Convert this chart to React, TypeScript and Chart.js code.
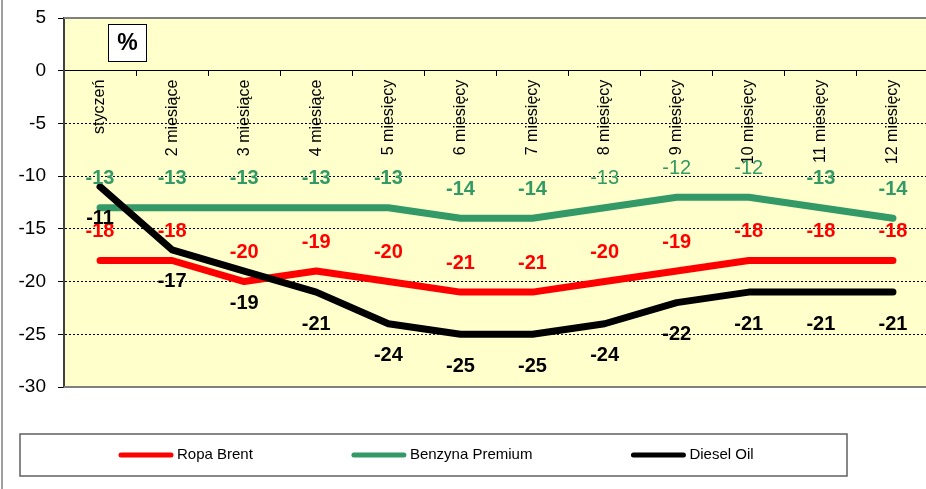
import React, { useEffect, useRef } from 'react';
import { Chart, registerables } from 'chart.js';

Chart.register(...registerables);

const categories = [
  'styczeń', '2 miesiące', '3 miesiące', '4 miesiące', '5 miesięcy', '6 miesięcy',
  '7 miesięcy', '8 miesięcy', '9 miesięcy', '10 miesięcy', '11 miesięcy', '12 miesięcy',
];
const ropaBrent = [-18, -18, -20, -19, -20, -21, -21, -20, -19, -18, -18, -18];
const benzynaPremium = [-13, -13, -13, -13, -13, -14, -14, -13, -12, -12, -13, -14];
const dieselOil = [-11, -17, -19, -21, -24, -25, -25, -24, -22, -21, -21, -21];
const yTicks = [5, 0, -5, -10, -15, -20, -25, -30];
const seriesNames = ['Ropa Brent', 'Benzyna Premium', 'Diesel Oil'];
const unitLabel = '%';

const FONT = "'Liberation Sans', Arial, sans-serif";
const COLORS = ['#FF0000', '#339966', '#000000'];
// label style: which Benzyna labels are drawn in regular weight
const regularWeightLabels: Record<number, number[]> = { 1: [7, 8, 9] };

const bgPlugin = {
  id: 'bgPlugin',
  beforeDraw(chart: any) {
    const { ctx, chartArea: a } = chart;
    ctx.save();
    ctx.fillStyle = '#FFFFFF';
    ctx.fillRect(0, 0, chart.width, chart.height);
    ctx.fillStyle = '#FFFFCC';
    ctx.fillRect(a.left, a.top, a.right - a.left, a.bottom - a.top);
    ctx.restore();
  },
  beforeDatasetsDraw(chart: any) {
    const { ctx, chartArea: a } = chart;
    ctx.save();
    ctx.strokeStyle = '#808080';
    ctx.lineWidth = 2;
    ctx.beginPath();
    ctx.moveTo(a.left, a.top);
    ctx.lineTo(a.right + 2, a.top);
    ctx.moveTo(a.left, a.bottom);
    ctx.lineTo(a.right + 2, a.bottom);
    ctx.stroke();
    ctx.restore();
  },
};

const labelPlugin = {
  id: 'labelPlugin',
  afterDatasetsDraw(chart: any) {
    const { ctx } = chart;
    ctx.save();
    ctx.textAlign = 'center';
    ctx.textBaseline = 'middle';
    chart.data.datasets.forEach((ds: any, di: number) => {
      const meta = chart.getDatasetMeta(di);
      meta.data.forEach((pt: any, i: number) => {
        const regular = (regularWeightLabels[di] || []).includes(i);
        ctx.font = `${regular ? 'normal' : 'bold'} 20px ${FONT}`;
        ctx.fillStyle = ds.borderColor;
        ctx.fillText(String(ds.data[i]), pt.x, pt.y + ds.labelDy);
      });
    });
    ctx.restore();
  },
  afterDraw(chart: any) {
    const { ctx, chartArea: a } = chart;
    ctx.save();
    // outer frame
    ctx.strokeStyle = '#808080';
    ctx.lineWidth = 1.5;
    ctx.beginPath();
    ctx.moveTo(2, 0);
    ctx.lineTo(2, chart.height);
    ctx.stroke();

    // unit box
    const bx = a.left + 44, by = 24, bw = 38, bh = 37;
    ctx.fillStyle = '#FFFFFF';
    ctx.fillRect(bx, by, bw, bh);
    ctx.strokeStyle = '#000000';
    ctx.lineWidth = 1;
    ctx.strokeRect(bx + 0.5, by + 0.5, bw, bh);
    ctx.fillStyle = '#000000';
    ctx.font = `bold 23px ${FONT}`;
    ctx.textAlign = 'center';
    ctx.textBaseline = 'middle';
    ctx.fillText(unitLabel, bx + bw / 2 + 0.5, by + bh / 2 + 1);

    // legend
    const lx = 20, ly = 434, lw = 827, lh = 42;
    ctx.fillStyle = '#FFFFFF';
    ctx.fillRect(lx, ly, lw, lh);
    ctx.strokeStyle = '#606060';
    ctx.lineWidth = 1.5;
    ctx.strokeRect(lx, ly, lw, lh);
    ctx.font = `15px ${FONT}`;
    ctx.textAlign = 'left';
    ctx.textBaseline = 'middle';
    let x = 119;
    const cy = ly + lh / 2;
    chart.data.datasets.forEach((ds: any) => {
      ctx.strokeStyle = ds.borderColor;
      ctx.lineWidth = 5;
      ctx.lineCap = 'round';
      ctx.beginPath();
      ctx.moveTo(x + 2, cy);
      ctx.lineTo(x + 52, cy);
      ctx.stroke();
      ctx.fillStyle = '#000000';
      ctx.fillText(ds.label, x + 58, cy);
      x += 58 + ctx.measureText(ds.label).width + 99;
    });
    ctx.restore();
  },
};

export default function App() {
  const canvasRef = useRef<HTMLCanvasElement | null>(null);

  useEffect(() => {
    document.body.style.margin = '0';
    const canvas = canvasRef.current;
    if (!canvas) return;
    const series = [ropaBrent, benzynaPremium, dieselOil];
    const orders = [3, 2, 1];
    const offsets = [-29, -29, 32];
    const chart = new Chart(canvas, {
      type: 'line',
      data: {
        labels: categories,
        datasets: series.map((d, i) => ({
          label: seriesNames[i],
          data: d,
          borderColor: COLORS[i],
          backgroundColor: COLORS[i],
          borderWidth: 7,
          pointRadius: 0,
          pointHoverRadius: 0,
          tension: 0,
          fill: false,
          borderCapStyle: 'round',
          borderJoinStyle: 'round',
          order: orders[i],
          labelDy: offsets[i],
        })) as any,
      },
      options: {
        animation: false,
        responsive: false,
        devicePixelRatio: 1,
        layout: { padding: { top: 18, bottom: 102, left: 0, right: 0 } },
        plugins: {
          legend: { display: false },
          tooltip: { enabled: false },
          title: { display: false },
        },
        scales: {
          x: {
            type: 'category',
            position: { y: 0 } as any,
            offset: true,
            afterFit: (s: any) => {
              s.paddingTop = 0;
              s.paddingBottom = 0;
              s.paddingLeft = 0;
              s.paddingRight = 0;
            },
            grid: {
              offset: true,
              drawOnChartArea: false,
              drawTicks: true,
              tickLength: 5,
              color: '#000000',
              tickColor: '#000000',
            },
            border: { display: true, color: '#000000', width: 1 },
            ticks: {
              autoSkip: false,
              minRotation: 90,
              maxRotation: 90,
              padding: 4,
              color: '#000000',
              font: { family: FONT, size: 16 },
            },
          },
          y: {
            type: 'linear',
            min: -30,
            max: 5,
            afterBuildTicks: (s: any) => {
              s.ticks = yTicks.map((v) => ({ value: v }));
            },
            afterFit: (s: any) => {
              s.width = 64;
              s.paddingTop = 0;
              s.paddingBottom = 0;
            },
            grid: {
              color: (c: any) => {
                const v = c.tick ? c.tick.value : null;
                return v !== null && v < 0 && v > -30 ? '#000000' : 'rgba(0,0,0,0)';
              },
              lineWidth: 1,
              tickColor: '#000000',
              tickLength: 6,
              drawTicks: true,
            },
            border: { display: true, color: '#404040', width: 2, dash: [2, 2] },
            ticks: {
              padding: 12,
              color: '#000000',
              font: { family: FONT, size: 19 },
            },
          },
        },
      },
      plugins: [bgPlugin, labelPlugin],
    });
    return () => chart.destroy();
  }, []);

  return (
    <div style={{ width: 926, height: 489, overflow: 'hidden', position: 'relative' }}>
      <canvas ref={canvasRef} width={929} height={489} style={{ width: 929, height: 489, display: 'block' }} />
    </div>
  );
}
